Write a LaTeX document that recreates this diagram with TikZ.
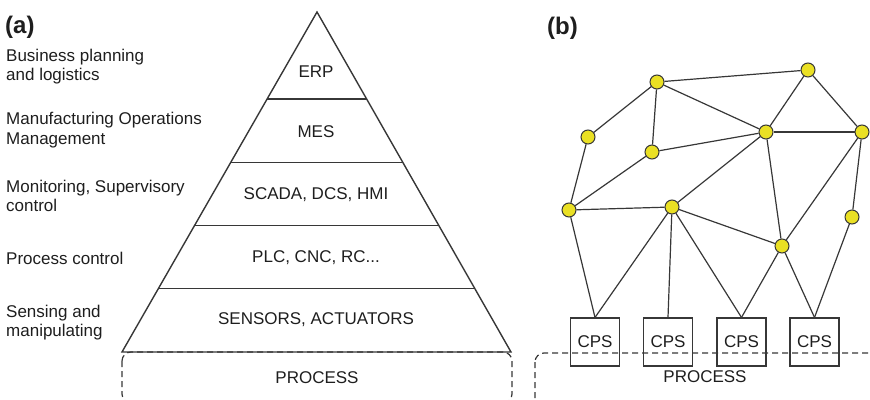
\documentclass[tikz,border=0pt]{standalone}
\usepackage{fontspec}
\setmainfont{Liberation Sans}
\usetikzlibrary{calc}
\definecolor{ln}{RGB}{55,55,55}
\definecolor{txt}{RGB}{30,30,30}
\definecolor{dotyellow}{RGB}{234,224,36}
\begin{document}
\begin{tikzpicture}[x=1pt,y=-1pt,
  font=\fontsize{17}{19.5}\selectfont, text=txt,
  lbl/.style={anchor=west,align=left,inner sep=0pt},
  plbl/.style={inner sep=0pt},
  head/.style={anchor=west,inner sep=0pt,font=\fontsize{24}{26}\selectfont\bfseries},
  pyr/.style={draw=ln,line width=1.4pt,line join=miter},
  dashbox/.style={draw=ln,line width=1.2pt,dash pattern=on 6pt off 4pt,rounded corners=9pt},
  dot/.style={circle,draw=ln,line width=1pt,fill=dotyellow,minimum size=14pt,inner sep=0pt},
  cps/.style={draw=ln,line width=1.1pt,minimum width=49pt,minimum height=48pt,inner sep=0pt},
  edge/.style={draw=ln,line width=1.2pt}]
\useasboundingbox (0,0) rectangle (870,399);

% ---------- (a) ----------
\node[head] (ha) at (5,27) {(a)};
\node[lbl] (l1) at (6,66.5) {Business planning\\and logistics};
\node[lbl] (l2) at (6,130) {Manufacturing Operations\\Management};
\node[lbl] (l3) at (6,196) {Monitoring, Supervisory\\control};
\node[lbl] (l4) at (6,258) {Process control};
\node[lbl] (l5) at (6,322.5) {Sensing and\\manipulating};

\coordinate (apex) at (317,12);
\coordinate (bl) at (122,352);
\coordinate (br) at (511,352);

\draw[dashbox] (122,352) rectangle (512,403);
\draw[pyr] (bl) -- (apex) -- (br) -- cycle;
\foreach \t in {0.2559,0.4419,0.6279,0.8140}
  \draw[pyr] ($(apex)!\t!(bl)$) -- ($(apex)!\t!(br)$);

\node[plbl] (erp) at (316,72) {ERP};
\node[plbl] (mes) at (316,132) {MES};
\node[plbl] (scada) at (316,195) {SCADA, DCS, HMI};
\node[plbl] (plc) at (316,258) {PLC, CNC, RC...};
\node[plbl] (sens) at (316,320) {SENSORS, ACTUATORS};
\node[plbl] (proca) at (317,378) {PROCESS};

% ---------- (b) ----------
\node[head] (hb) at (547,28) {(b)};

\draw[dashbox] (535,353) rectangle (885,410);
\node[plbl] (procb) at (705,377) {PROCESS};

\node[cps] (c1) at (595,342) {CPS};
\node[cps] (c2) at (668,342) {CPS};
\node[cps] (c3) at (741.5,342) {CPS};
\node[cps] (c4) at (814.5,342) {CPS};

\node[dot] (n1) at (657,82) {};
\node[dot] (n2) at (808,70) {};
\node[dot] (n3) at (588,137) {};
\node[dot] (n4) at (652,152) {};
\node[dot] (n5) at (766,132) {};
\node[dot] (n6) at (862,132) {};
\node[dot] (n7) at (569,210) {};
\node[dot] (n8) at (672,207) {};
\node[dot] (n9) at (852,217) {};
\node[dot] (n10) at (782,246) {};

\foreach \a/\b in {n1/n2,n1/n3,n1/n4,n1/n5,n2/n5,n2/n6,n5/n6,n4/n5,n4/n7,n3/n7,
  n7/n8,n8/n5,n5/n10,n6/n10,n6/n9,n8/n10}
  \draw[edge] (\a) -- (\b);
\foreach \a/\b in {n7/c1,n8/c1,n8/c2,n8/c3,n10/c3,n10/c4,n9/c4}
  \draw[edge] (\a) -- (\b.north);
\end{tikzpicture}
\end{document}
